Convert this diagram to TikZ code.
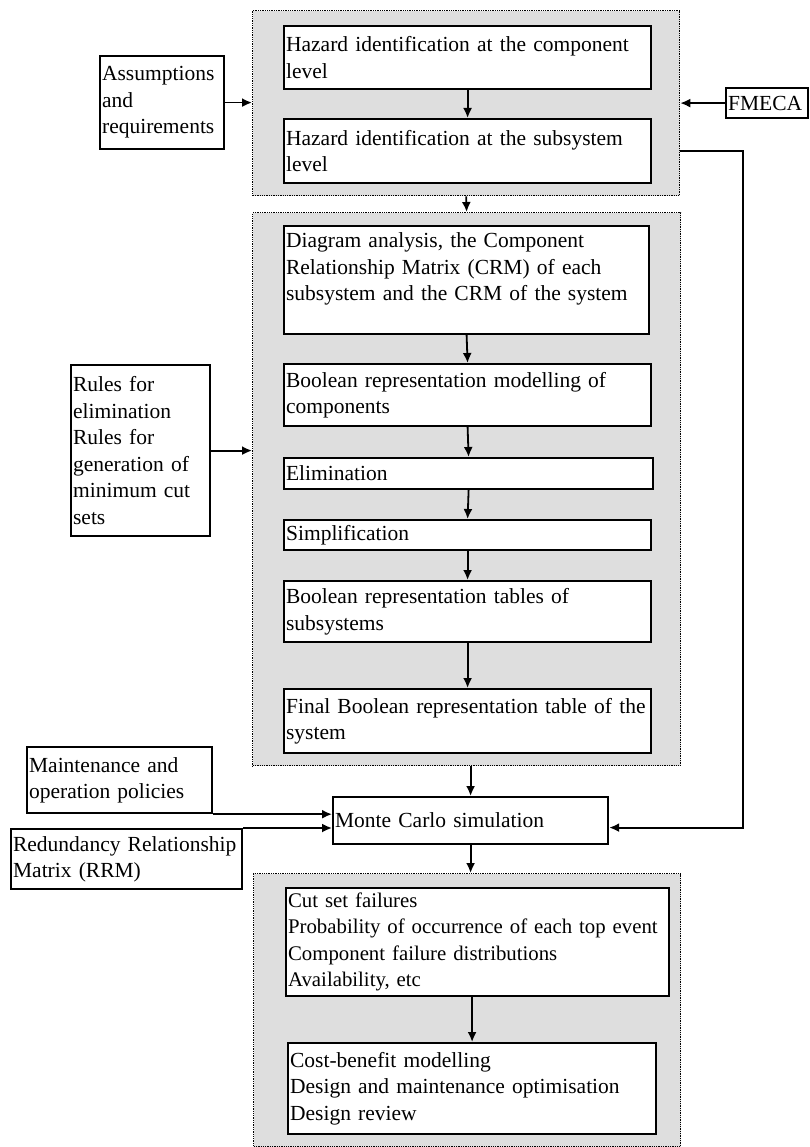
\documentclass[tikz,border=0pt]{standalone}
\usepackage{fontspec}
\setmainfont{Liberation Serif}
\usetikzlibrary{arrows.meta,positioning}

\begin{document}
\begin{tikzpicture}[x=1pt, y=-1pt]
    \tikzstyle{stepbox} = [rectangle, draw=black, line width=2.2pt, fill=white, anchor=north west, align=left, inner xsep=2pt, inner ysep=0pt, font=\fontsize{21.5}{26.5}\selectfont];
    \tikzstyle{groupbox} = [rectangle, draw=black, densely dotted, line width=1.3pt, fill=black!13, anchor=north west, inner sep=0pt];
    \tikzstyle{flow} = [-{Latex[length=10pt,width=9pt]}, line width=1.8pt];

    \useasboundingbox (0,0) rectangle (809,1147);

    % shaded groups
    \node[groupbox, minimum width=427pt, minimum height=185pt](G1) at (252,10) {};
    \node[groupbox, minimum width=428pt, minimum height=553pt](G2) at (252,212) {};
    \node[groupbox, minimum width=427pt, minimum height=273pt](G3) at (253,873) {};

    % hazard identification
    \node[stepbox, minimum width=367pt, minimum height=63pt, text width=363pt](A1) at (283,25) {Hazard identification at the component\\level};
    \node[stepbox, minimum width=367pt, minimum height=64pt, text width=363pt](A2) at (283,118) {Hazard identification at the subsystem\\level};
    \node[stepbox, minimum width=124pt, minimum height=93pt, text width=120pt](ASS) at (99,55) {Assumptions\\and\\requirements};
    \node[stepbox, minimum width=82pt, minimum height=30pt, text width=78pt](FMECA) at (725,87) {FMECA};

    % boolean representation
    \node[stepbox, minimum width=365pt, minimum height=108pt, text width=361pt](B1) at (283,225) {Diagram analysis, the Component\\Relationship Matrix (CRM) of each\\subsystem and the CRM of the system\\\mbox{}};
    \node[stepbox, minimum width=367pt, minimum height=62pt, text width=363pt](B2) at (283,363) {Boolean representation modelling of\\components};
    \node[stepbox, minimum width=369pt, minimum height=31pt, text width=365pt](B3) at (283,457) {Elimination};
    \node[stepbox, minimum width=367pt, minimum height=30pt, text width=363pt](B4) at (283,519) {Simplification};
    \node[stepbox, minimum width=367pt, minimum height=61pt, text width=363pt](B5) at (283,580) {Boolean representation tables of\\subsystems};
    \node[stepbox, minimum width=367pt, minimum height=64pt, text width=363pt](B6) at (283,688) {\mbox{Final Boolean representation table of the}\\system};
    \node[stepbox, minimum width=139pt, minimum height=171pt, text width=135pt](RULES) at (70,364) {Rules for\\elimination\\Rules for\\generation of\\minimum cut\\sets};

    % simulation
    \node[stepbox, minimum width=275pt, minimum height=47pt, text width=271pt](MC) at (332,796) {Monte Carlo simulation};
    \node[stepbox, minimum width=185pt, minimum height=66pt, text width=181pt](MAINT) at (26,746) {Maintenance and\\operation policies};
    \node[stepbox, minimum width=231pt, minimum height=60pt, text width=227pt](RRM) at (10,828) {\mbox{Redundancy Relationship}\\Matrix (RRM)};

    % results
    \node[stepbox, minimum width=383pt, minimum height=108pt, text width=379pt, font=\fontsize{20.8}{26.5}\selectfont](C1) at (285,887) {Cut set failures\\\mbox{Probability of occurrence of each top event}\\Component failure distributions\\Availability, etc};
    \node[stepbox, minimum width=368pt, minimum height=91pt, text width=364pt](C2) at (287,1042) {Cost-benefit modelling\\Design and maintenance optimisation\\Design review};

    \draw[flow] (ASS.east) -- (ASS.east -| G1.west);
    \draw[flow] (FMECA.west) -- (FMECA.west -| G1.east);
    \draw[flow] (A1.south) -- (A2.north);
    \draw[flow] (G1.south) -- (G2.north);
    \draw[flow] (B1.south) -- (B2.north);
    \draw[flow] (B2.south) -- (B3.north);
    \draw[flow] (B3.south) -- (B4.north);
    \draw[flow] (B4.south) -- (B5.north);
    \draw[flow] (B5.south) -- (B6.north);
    \draw[flow] (RULES.east) -- (RULES.east -| G2.west);
    \draw[flow] (G2.south -| MC.north) -- (MC.north);
    \draw[flow] (MAINT.south east) -- (MAINT.south east -| MC.west);
    \draw[flow] (RRM.north east) -- (RRM.north east -| MC.west);
    \draw[flow] (G1.east |- A2.east) -- ++(63,0) |- ([yshift=-7pt]MC.east);
    \draw[flow] (MC.south) -- (MC.south |- G3.north);
    \draw[flow] (C1.south -| C2.north) -- (C2.north);
\end{tikzpicture}
\end{document}
